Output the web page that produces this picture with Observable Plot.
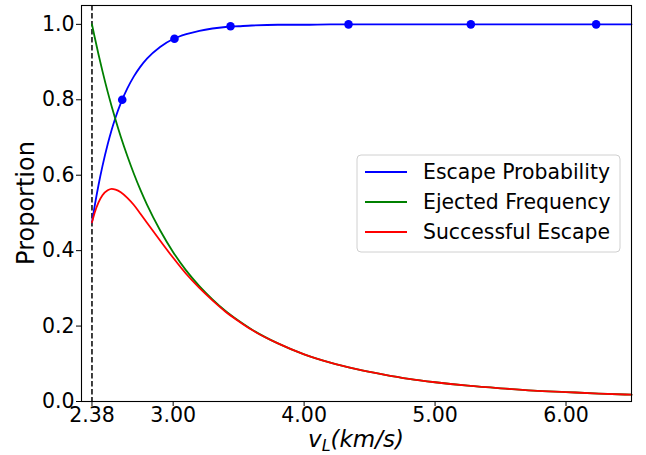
<!DOCTYPE html>
<html>
<head>
<meta charset="utf-8">
<script src="https://cdn.jsdelivr.net/npm/d3@7"></script>
<script src="https://cdn.jsdelivr.net/npm/@observablehq/plot@0.6"></script>
<style>
  body { margin: 0; background: #fff; }
  #chart svg { display: block; }
</style>
</head>
<body>
<div id="chart"></div>
<script>
// Velocity grid (km/s)
const velocity = [2.38, 2.40, 2.43, 2.46, 2.50, 2.53, 2.56, 2.60, 2.65, 2.70, 2.75, 2.80, 2.90, 3.00, 3.10, 3.20, 3.30, 3.40, 3.50, 3.60, 3.80, 4.00, 4.20, 4.40, 4.60, 4.80, 5.00, 5.25, 5.50, 5.75, 6.00, 6.25, 6.50];
const escapeProbability = [0.475, 0.517, 0.574, 0.624, 0.682, 0.720, 0.753, 0.791, 0.830, 0.862, 0.888, 0.909, 0.940, 0.961, 0.974, 0.983, 0.989, 0.993, 0.995, 0.997, 0.999, 0.999, 1.0, 1.0, 1.0, 1.0, 1.0, 1.0, 1.0, 1.0, 1.0, 1.0, 1.0];
const ejectedFrequency = [1.0, 0.967, 0.920, 0.876, 0.821, 0.783, 0.747, 0.702, 0.651, 0.604, 0.561, 0.522, 0.454, 0.396, 0.347, 0.306, 0.271, 0.240, 0.214, 0.191, 0.154, 0.125, 0.103, 0.086, 0.072, 0.060, 0.051, 0.042, 0.035, 0.029, 0.025, 0.021, 0.018];
const successfulEscape = [0.475, 0.500, 0.528, 0.547, 0.560, 0.564, 0.562, 0.555, 0.540, 0.521, 0.498, 0.474, 0.427, 0.381, 0.338, 0.301, 0.268, 0.238, 0.213, 0.190, 0.154, 0.125, 0.103, 0.086, 0.072, 0.060, 0.051, 0.042, 0.035, 0.029, 0.025, 0.021, 0.018];
// Sampled escape probability points
const pointVelocity = [2.611, 3.010, 3.438, 4.339, 5.273, 6.230];
const pointProbability = [0.80, 0.962, 0.995, 1.0, 1.0, 1.0];
// Threshold velocity
const threshold = [2.38];
const xTicks = [2.38, 3.00, 4.00, 5.00, 6.00];
const yTicks = [0.0, 0.2, 0.4, 0.6, 0.8, 1.0];

const seriesNames = ["Escape Probability", "Ejected Frequency", "Successful Escape"];
const seriesColors = ["#0000ff", "#008000", "#ff0000"];
const seriesValues = [escapeProbability, ejectedFrequency, successfulEscape];

const rows = [];
seriesNames.forEach((name, i) => {
  velocity.forEach((v, j) => rows.push({series: name, v, p: seriesValues[i][j]}));
});
const points = pointVelocity.map((v, i) => ({v, p: pointProbability[i]}));

const W = 646, H = 455;
const fontFam = "DejaVu Sans, sans-serif";

const plot = Plot.plot({
  width: W,
  height: H,
  marginLeft: 81,
  marginRight: 15,
  marginTop: 5,
  marginBottom: 54,
  style: {fontFamily: fontFam, fontSize: "20.5px", color: "#000", background: "#fff", overflow: "visible"},
  x: {domain: [2.3, 6.5], ticks: xTicks, tickFormat: d3.format(".2f"), label: null, tickSize: 5, tickPadding: 1},
  y: {domain: [0, 1.05], ticks: yTicks, tickFormat: d3.format(".1f"), label: null, tickSize: 5, tickPadding: 2},
  color: {domain: seriesNames, range: seriesColors},
  marks: [
    Plot.ruleX(threshold, {stroke: "#000", strokeWidth: 1.5, strokeDasharray: "5.5,2.5"}),
    Plot.line(rows, {x: "v", y: "p", z: "series", stroke: "series", strokeWidth: 1.8, curve: "monotone-x"}),
    Plot.dot(points, {x: "v", y: "p", r: 4.3, fill: "#0000ff", stroke: "none"}),
    Plot.frame({stroke: "#000", strokeWidth: 1.1})
  ]
});

document.getElementById("chart").appendChild(plot);

const svg = d3.select(plot);
// Y axis label
svg.append("text")
  .attr("transform", `translate(27,${(5 + 401) / 2}) rotate(-90)`)
  .attr("text-anchor", "middle")
  .attr("dominant-baseline", "middle")
  .style("font-family", fontFam)
  .style("font-size", "24px")
  .text("Proportion");

// X axis label with subscript
const xl = svg.append("text")
  .attr("x", (81 + 631) / 2)
  .attr("y", 447)
  .attr("text-anchor", "middle")
  .style("font-family", fontFam)
  .style("font-size", "23px")
  .style("font-style", "italic");
xl.append("tspan").text("v");
xl.append("tspan").attr("dy", 4).style("font-size", "16px").text("L");
xl.append("tspan").attr("dy", -4).text("(km/s)");

// Legend
const lg = svg.append("g");
lg.append("rect")
  .attr("x", 357).attr("y", 155).attr("width", 263).attr("height", 97)
  .attr("rx", 4).attr("fill", "#fff").attr("fill-opacity", 0.8)
  .attr("stroke", "#d0d0d0").attr("stroke-width", 1);
seriesNames.forEach((name, i) => {
  const y = 172 + i * 30;
  lg.append("line").attr("x1", 365).attr("x2", 407).attr("y1", y).attr("y2", y)
    .attr("stroke", seriesColors[i]).attr("stroke-width", 1.8);
  lg.append("text").attr("x", 423).attr("y", y)
    .attr("text-anchor", "start")
    .attr("dominant-baseline", "central")
    .style("font-family", fontFam).style("font-size", "20.4px").text(name);
});
</script>
</body>
</html>
